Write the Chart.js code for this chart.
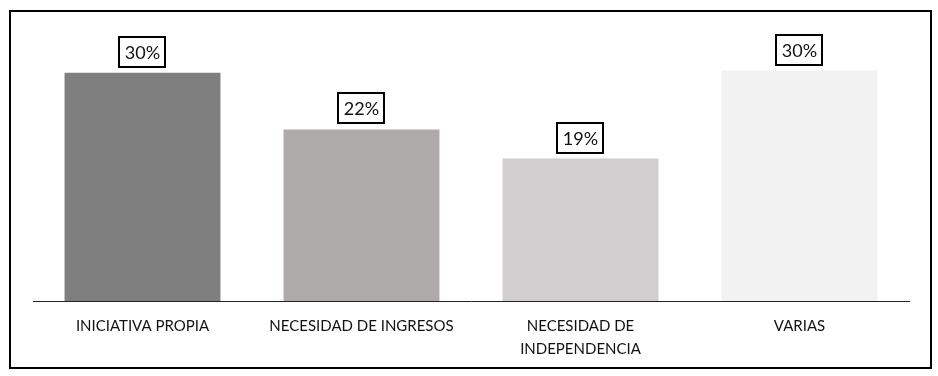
<!DOCTYPE html>
<html>
<head>
<meta charset="utf-8">
<script src="https://cdn.jsdelivr.net/npm/chart.js@4/dist/chart.umd.min.js"></script>
<style>
  html, body { margin: 0; padding: 0; background: #fff; }
  #wrap { width: 938px; height: 376px; position: relative; }
</style>
</head>
<body>
<div id="wrap"><canvas id="c" width="938" height="376"></canvas></div>
<script>
const categories = [["INICIATIVA PROPIA"], ["NECESIDAD DE INGRESOS"], ["NECESIDAD DE", "INDEPENDENCIA"], ["VARIAS"]];
const values = [29.8, 22.4, 18.6, 30.1];
const valueLabels = ["30%", "22%", "19%", "30%"];
const barColors = ["#7f7f7f", "#aeaaaa", "#d0cece", "#f2f2f2"];

const frame = {
  id: 'frame',
  beforeDraw(chart) {
    const ctx = chart.ctx;
    ctx.save();
    ctx.fillStyle = '#fff';
    ctx.fillRect(0, 0, chart.width, chart.height);
    ctx.strokeStyle = '#000';
    ctx.lineWidth = 2;
    ctx.strokeRect(10, 11, 921, 357);
    ctx.restore();
  }
};

const boxLabels = {
  id: 'boxLabels',
  afterDatasetsDraw(chart) {
    const ctx = chart.ctx;
    const meta = chart.getDatasetMeta(0);
    ctx.save();
    ctx.font = '18px Lato';
    ctx.textAlign = 'center';
    ctx.textBaseline = 'middle';
    meta.data.forEach((bar, i) => {
      const txt = valueLabels[i];
      const w = ctx.measureText(txt).width + 11;
      const h = 30;
      const bottom = bar.y - 6;
      const x0 = Math.round(bar.x - w / 2);
      const y0 = Math.round(bottom - h);
      ctx.fillStyle = '#fff';
      ctx.fillRect(x0, y0, w, h);
      ctx.strokeStyle = '#000';
      ctx.lineWidth = 2;
      ctx.strokeRect(x0, y0, Math.round(w), h);
      ctx.fillStyle = '#111';
      ctx.fillText(txt, bar.x, y0 + h / 2 + 1);
    });
    ctx.restore();
  }
};

new Chart(document.getElementById('c'), {
  type: 'bar',
  data: {
    labels: categories,
    datasets: [{
      data: values,
      backgroundColor: barColors,
      borderWidth: 0,
      categoryPercentage: 1,
      barPercentage: 0.712
    }]
  },
  options: {
    responsive: false,
    animation: false,
    events: [],
    layout: { padding: { left: 33, right: 29, top: 33, bottom: 0 } },
    plugins: { legend: { display: false }, tooltip: { enabled: false } },
    scales: {
      y: { display: false, min: 0, max: 35 },
      x: {
        afterFit(scale) { scale.height = 75; },
        grid: { display: false, drawTicks: false },
        border: { display: true, color: '#222', width: 1 },
        ticks: {
          color: '#111',
          font: { family: 'Lato', size: 15, lineHeight: 1.5 },
          padding: 14,
          maxRotation: 0,
          autoSkip: false
        }
      }
    }
  },
  plugins: [frame, boxLabels]
});
</script>
</body>
</html>
